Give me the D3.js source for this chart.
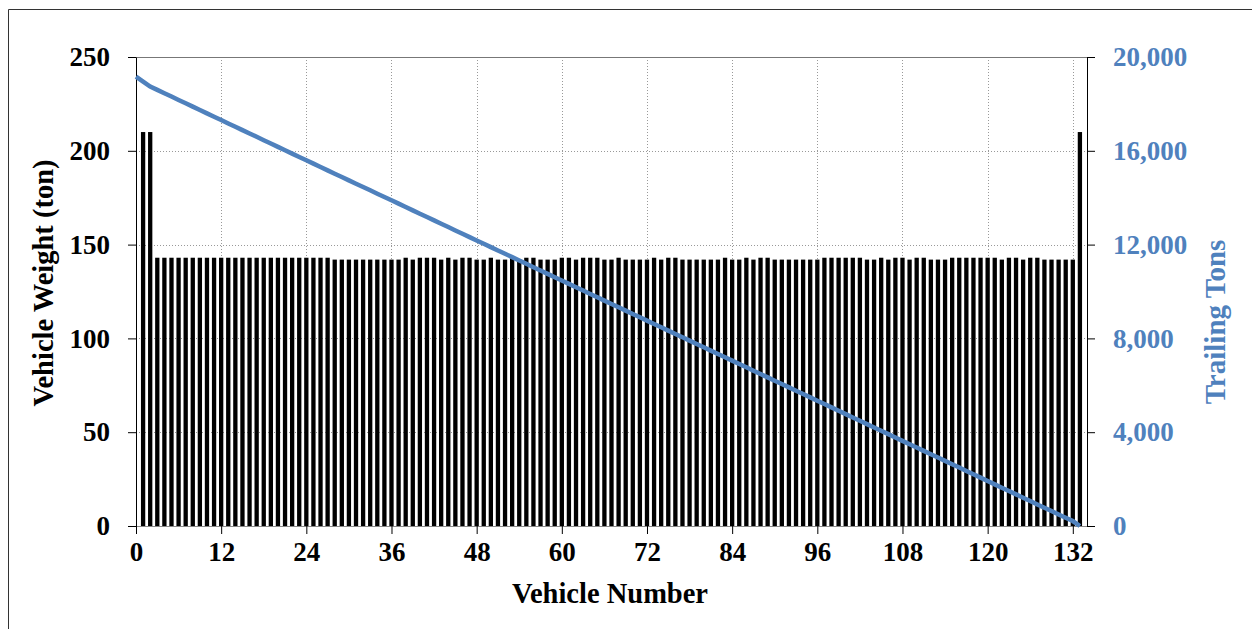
<!DOCTYPE html>
<html><head><meta charset="utf-8">
<script src="https://cdn.jsdelivr.net/npm/d3@7"></script>
<style>body{margin:0;background:#fff}svg{display:block}</style>
</head><body>
<svg id="c" width="1252" height="629"></svg>
<script>
// Vehicle weights (ton), vehicles 1..133
const vehicleNumbers = d3.range(1, 134);
const vehicleWeights = [
210,210,
143,143,143,143,143,143,143,143,143,143,143,143,143,143,143,143,143,143,143,143,143,143,143,143,143,
142,142,142,142,142,142,142,142,142,142,
143,142,143,143,143,142,143,142,143,143,142,142,143,142,142,143,142,143,143,142,142,142,
143,143,142,143,143,143,142,142,143,142,142,142,142,143,142,143,143,142,142,142,142,142,142,143,142,142,143,142,143,143,
142,142,142,142,142,142,142,143,143,143,143,143,143,142,142,143,142,143,143,142,143,143,142,142,142,143,143,143,143,143,143,143,142,143,143,142,143,143,142,142,142,142,142,
210];
// Trailing tons behind vehicle 0..133
const trailingPositions = d3.range(0, 134);
const trailingTons = [
19161,18951,18741,18598,18455,18312,18169,18026,17883,17740,17597,17454,17311,17168,17025,16882,16739,16596,16453,16310,16167,16024,15881,15738,15595,15452,15309,15166,15024,14882,14740,14598,14456,14314,14172,14030,13888,13746,13603,13461,13318,13175,13032,12890,12747,12605,12462,12319,12177,12035,11892,11750,11608,11465,11323,11180,11037,10895,10753,10611,10468,10325,10183,10040,9897,9754,9612,9470,9327,9185,9043,8901,8759,8616,8474,8331,8188,8046,7904,7762,7620,7478,7336,7193,7051,6909,6766,6624,6481,6338,6196,6054,5912,5770,5628,5486,5344,5201,5058,4915,4772,4629,4486,4344,4202,4059,3917,3774,3631,3489,3346,3203,3061,2919,2777,2634,2491,2348,2205,2062,1919,1776,1634,1491,1348,1206,1063,920,778,636,494,352,210,0];
const xTicks = [0,12,24,36,48,60,72,84,96,108,120,132];
const yLeftTicks = [0,50,100,150,200,250];
const yRightTicks = [0,4000,8000,12000,16000,20000];

const svg = d3.select('#c');
const L = 136, R = 1087, T = 57, B = 526;
const x = d3.scaleLinear().domain([0,134]).range([L,R]);
const y = d3.scaleLinear().domain([0,250]).range([B,T]);
const y2 = d3.scaleLinear().domain([0,20000]).range([B,T]);
const font = '"Liberation Serif","Times New Roman",serif';
const blue = '#4F81BD';

// outer frame
svg.append('path').attr('d','M8.5,629 V9.5 H1252').attr('fill','none').attr('stroke','#333').attr('stroke-width',1);

// gridlines
const g = svg.append('g');
g.selectAll('.hg').data(yLeftTicks.filter(d=>d>0 && d<250)).join('line')
  .attr('x1',L).attr('x2',R).attr('y1',d=>Math.round(y(d))+0.5).attr('y2',d=>Math.round(y(d))+0.5)
  .attr('stroke','#999').attr('stroke-dasharray','1,2');
g.selectAll('.vg').data(xTicks.filter(d=>d>0)).join('line')
  .attr('y1',T).attr('y2',B).attr('x1',d=>Math.round(x(d))+0.5).attr('x2',d=>Math.round(x(d))+0.5)
  .attr('stroke','#999').attr('stroke-dasharray','1,2');
// top border
svg.append('line').attr('x1',L).attr('x2',R).attr('y1',T+0.5).attr('y2',T+0.5).attr('stroke','#777');

// bars
const bw = 4.3;
svg.append('g').selectAll('rect').data(vehicleWeights).join('rect')
  .attr('x',(d,i)=>x(vehicleNumbers[i])-bw/2).attr('width',bw)
  .attr('y',d=>y(d)).attr('height',d=>B-y(d)).attr('fill','#000');

// axes
const ax = svg.append('g').attr('transform',`translate(0,${B})`)
  .call(d3.axisBottom(x).tickValues(xTicks).tickSize(8).tickSizeOuter(0).tickPadding(8));
ax.select('.domain').attr('stroke','#888').attr('d',`M${L-8},0.5H${R+8}`);
const ay = svg.append('g').attr('transform',`translate(${L},0)`)
  .call(d3.axisLeft(y).tickValues(yLeftTicks).tickSize(8).tickSizeOuter(0).tickPadding(18));
ay.select('.domain').attr('stroke','#000');
const ay2 = svg.append('g').attr('transform',`translate(${R},0)`)
  .call(d3.axisRight(y2).tickValues(yRightTicks).tickSize(8).tickSizeOuter(0).tickPadding(18).tickFormat(d3.format(',')));
ay2.select('.domain').attr('stroke','#000');
[ax,ay,ay2].forEach(a=>{
  a.selectAll('text').attr('font-family',font).attr('font-weight','bold').attr('font-size',27);
  a.selectAll('.tick line').attr('stroke','#000');
});
ay2.selectAll('text').attr('fill',blue);

// line
svg.append('path').datum(trailingTons)
  .attr('d', d3.line().x((d,i)=>x(trailingPositions[i])).y(d=>y2(d)))
  .attr('fill','none').attr('stroke',blue).attr('stroke-width',4.5);

// titles
svg.append('text').attr('x',610).attr('y',603).attr('text-anchor','middle')
  .attr('font-family',font).attr('font-weight','bold').attr('font-size',28.5).text('Vehicle Number');
svg.append('text').attr('transform','translate(53,283) rotate(-90)').attr('text-anchor','middle')
  .attr('font-family',font).attr('font-weight','bold').attr('font-size',28.5).text('Vehicle Weight (ton)');
svg.append('text').attr('transform','translate(1225,322) rotate(-90)').attr('text-anchor','middle')
  .attr('font-family',font).attr('font-weight','bold').attr('font-size',29).attr('fill',blue).text('Trailing Tons');
</script>
</body></html>
